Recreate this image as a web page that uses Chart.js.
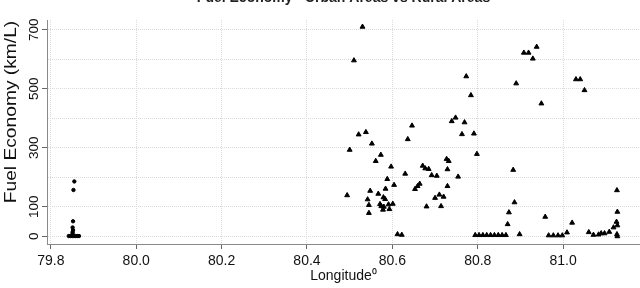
<!DOCTYPE html>
<html>
<head>
<meta charset="utf-8">
<script src="https://cdn.jsdelivr.net/npm/chart.js@4.4.1/dist/chart.umd.min.js"></script>
<style>
  html, body { margin: 0; padding: 0; background: #fff; overflow: hidden; }
  #fuel_chart { position: absolute; left: 0; top: -10px; }
</style>
</head>
<body>
<canvas id="fuel_chart" width="640" height="298"></canvas>
<script>
// ----------------------------- data ---------------------- >>
const chartTitle = 'Fuel Economy - Urban Areas vs Rural Areas';
const xLabel = 'Longitude\u2070';
const yLabel = 'Fuel Economy (km/L)';
const yTickLabels = [0, 100, 300, 500, 700];

// urban areas (circles)
const urbanLon = [79.842, 79.846, 79.850, 79.854, 79.858, 79.862, 79.866, 79.851, 79.851, 79.852, 79.851, 79.852, 79.853, 79.855];
const urbanFuel = [1, 1, 1, 1, 1, 1, 1, 8, 14, 21, 30, 51, 157, 186];

// rural areas (triangles)
const ruralLon = [
  80.530, 80.510, 80.773, 80.784, 80.748, 80.739, 80.769, 80.646, 80.521, 80.538,
  80.636, 80.552, 80.763, 80.791, 80.798, 80.500, 80.573, 80.561, 80.597, 80.727,
  80.732, 80.671, 80.677, 80.685, 80.729, 80.630, 80.692, 80.704, 80.754, 80.588,
  80.604, 80.729, 80.664, 80.659, 80.653, 80.584, 80.548, 80.494, 80.567, 80.710,
  80.700, 80.720, 80.579, 80.583, 80.542, 80.545, 80.571, 80.574, 80.580, 80.591,
  80.601, 80.578, 80.593, 80.545, 80.680, 80.714, 80.612, 80.622, 80.938, 80.908,
  80.919, 80.929, 80.890, 80.949, 81.030, 81.040, 81.050, 80.883, 80.886, 80.873,
  80.870, 80.898, 80.794, 80.803, 80.812, 80.821, 80.830, 80.839, 80.848, 80.857,
  80.866, 80.958, 80.966, 80.977, 80.988, 80.998, 81.009, 81.021, 81.060, 81.071,
  81.083, 81.089, 81.097, 81.108, 81.118, 81.126, 81.127, 81.125, 81.127, 81.126,
  81.127
];
const ruralFuel = [
  710, 596, 542, 478, 402, 390, 386, 375, 345, 353,
  329, 314, 346, 348, 279, 293, 276, 255, 236, 262,
  255, 239, 230, 228, 227, 212, 207, 205, 202, 194,
  174, 170, 178, 170, 160, 161, 154, 139, 144, 141,
  130, 134, 132, 126, 125, 106, 109, 102, 100, 108,
  110, 90, 92, 79, 101, 102, 7, 5, 642, 622,
  622, 602, 518, 450, 532, 532, 495, 225, 115, 81,
  41, 7, 4, 4, 4, 4, 4, 4, 4, 4,
  4, 66, 3, 3, 3, 3, 13, 46, 14, 5,
  6, 10, 10, 15, 30, 156, 83, 49, 37, 7,
  0
];

function toPoints(xs, ys) {
  return xs.map((x, i) => ({ x: x, y: ys[i] }));
}

// rotated y axis title, placed like the original
const yTitlePlugin = {
  id: 'yTitle',
  afterDraw(chart) {
    const c = chart.ctx;
    c.save();
    c.translate(12, 122);
    c.rotate(-Math.PI / 2);
    c.scale(1.2, 1);
    c.font = '16px "Liberation Sans", Arial, sans-serif';
    c.fillStyle = '#111';
    c.textAlign = 'center';
    c.textBaseline = 'middle';
    c.fillText(yLabel, 0, 0);
    c.restore();
  }
};

// ----------------------------- graph ---------------------- >>
const ctx = document.getElementById('fuel_chart').getContext('2d');
const fuelChart = new Chart(ctx, {
  type: 'scatter',
  data: {
    datasets: [{
      label: 'Urban',
      data: toPoints(urbanLon, urbanFuel),
      pointStyle: 'circle',
      radius: 1.7,
      borderWidth: 1,
      backgroundColor: '#000',
      borderColor: '#000'
    }, {
      label: 'Rural',
      data: toPoints(ruralLon, ruralFuel),
      pointStyle: 'triangle',
      radius: 2.8,
      borderWidth: 1,
      backgroundColor: '#000',
      borderColor: '#000'
    }]
  },
  options: {
    responsive: false,
    animation: false,
    devicePixelRatio: 1,
    layout: { padding: 0, autoPadding: false },
    plugins: {
      legend: { display: false },
      tooltip: { enabled: false },
      title: {
        display: true,
        text: chartTitle,
        fullSize: false,
        color: '#222',
        font: { family: '"Liberation Sans", Arial, sans-serif', size: 14, weight: 'bold' },
        padding: { top: 0, bottom: 13.2 }
      }
    },
    scales: {
      x: {
        type: 'linear',
        min: 79.791,
        max: 81.18,
        afterFit: (scale) => { scale.height = 44; },
        ticks: {
          stepSize: 0.2,
          includeBounds: false,
          padding: 4,
          color: '#111',
          font: { family: '"Liberation Sans", Arial, sans-serif', size: 14 },
          callback: (v) => v.toFixed(1)
        },
        grid: {
          color: '#dadada',
          tickLength: 5,
          tickColor: '#666'
        },
        border: { color: '#8a8a8a', width: 1, dash: [1, 1] },
        title: {
          display: true,
          text: xLabel,
          color: '#111',
          font: { family: '"Liberation Sans", Arial, sans-serif', size: 14 },
          padding: { top: 0, bottom: 3 }
        }
      },
      y: {
        type: 'linear',
        min: -26,
        max: 733,
        afterFit: (scale) => { scale.width = 47; },
        ticks: {
          stepSize: 100,
          includeBounds: false,
          minRotation: 90,
          maxRotation: 90,
          crossAlign: 'center',
          padding: -4,
          color: '#111',
          font: { family: '"Liberation Sans", Arial, sans-serif', size: 13.5 },
          callback: (v) => yTickLabels.includes(v) ? String(v) : ''
        },
        grid: {
          color: '#dadada',
          tickLength: 5,
          tickColor: (c) => (c.tick && yTickLabels.includes(c.tick.value)) ? '#666' : 'rgba(0,0,0,0)'
        },
        border: { color: '#8a8a8a', width: 1, dash: [1, 1] }
      }
    }
  },
  plugins: [yTitlePlugin]
});
</script>
</body>
</html>
